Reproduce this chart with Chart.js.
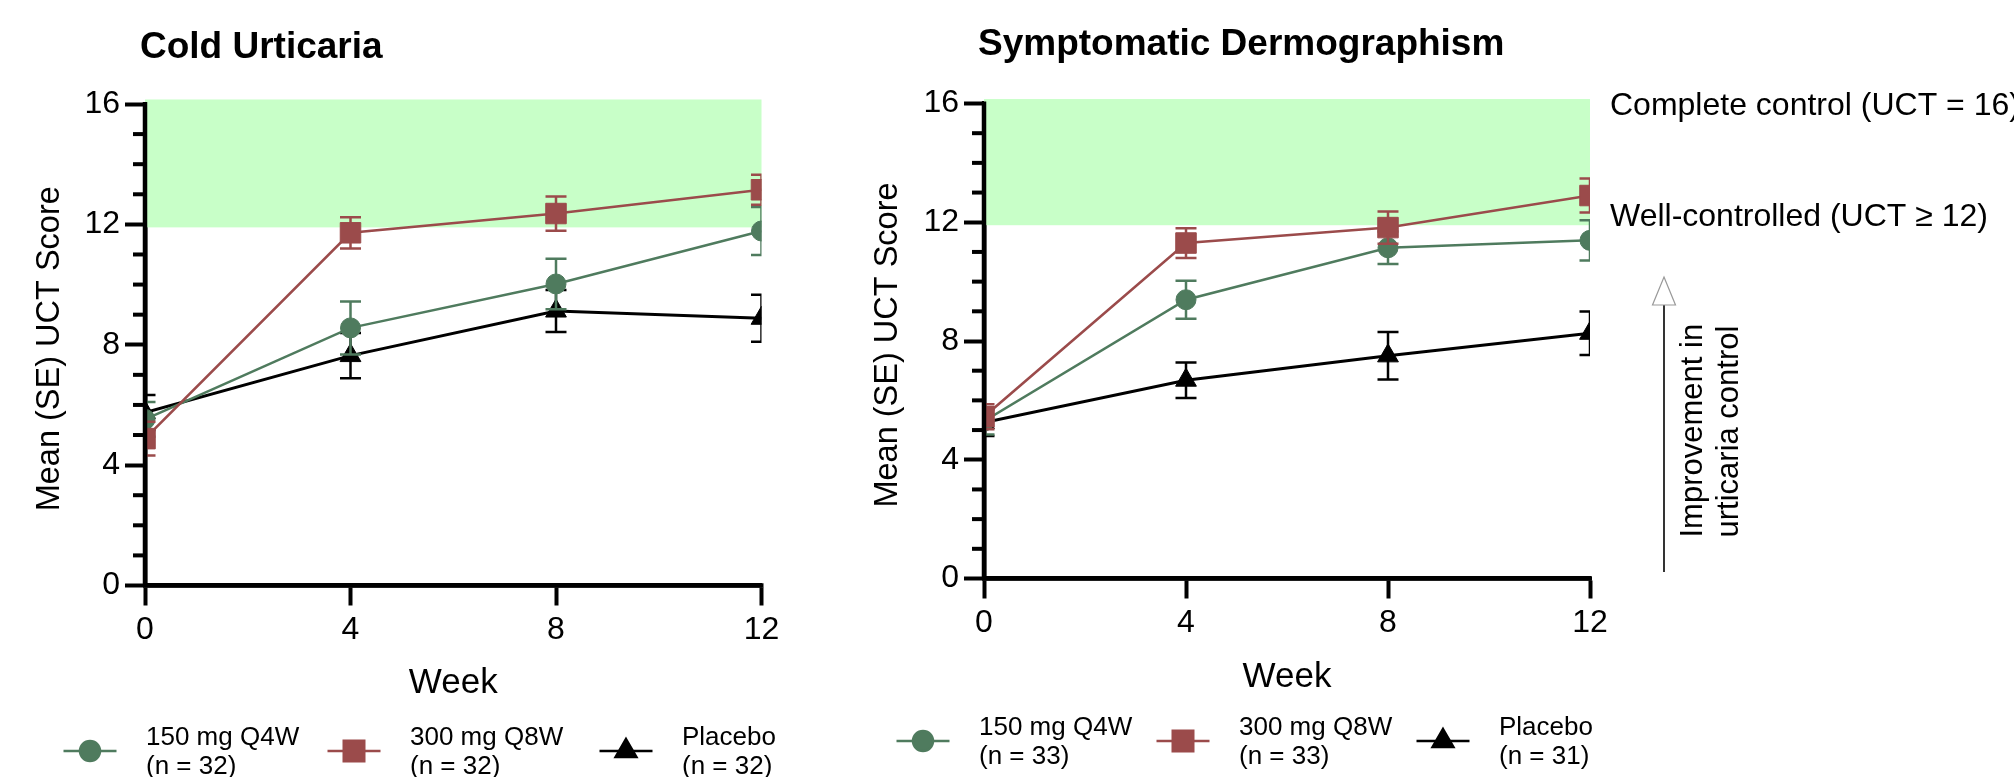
<!DOCTYPE html>
<html><head><meta charset="utf-8">
<script src="https://cdn.jsdelivr.net/npm/chart.js@4/dist/chart.umd.min.js"></script>
<style>
html,body{margin:0;padding:0;background:#fff;overflow:hidden}
#wrap{position:relative;width:2014px;height:777px;background:#fff}
canvas{position:absolute;top:0}
#c1{left:0;width:850px;height:777px}
#c2{left:850px;width:1164px;height:777px}
</style></head><body>
<div id="wrap"><canvas id="c1" width="850" height="777"></canvas><canvas id="c2" width="1164" height="777"></canvas></div>
<script>
// ---- data ----
const weeks = [0, 4, 8, 12];
const seriesNames = ['150 mg Q4W', '300 mg Q8W', 'Placebo'];
const yTicks = [0, 4, 8, 12, 16];
const xTicks = [0, 4, 8, 12];

const cuTitle = 'Cold Urticaria';
const cuN = [32, 32, 32];
const cuQ4W = [5.52, 8.56, 10.02, 11.78];
const cuQ4WSe = [0.58, 0.88, 0.84, 0.80];
const cuQ8W = [4.88, 11.72, 12.36, 13.15];
const cuQ8WSe = [0.56, 0.52, 0.57, 0.50];
const cuPbo = [5.75, 7.64, 9.12, 8.88];
const cuPboSe = [0.58, 0.75, 0.70, 0.78];

const sdTitle = 'Symptomatic Dermographism';
const sdN = [33, 33, 31];
const sdQ4W = [5.30, 9.39, 11.14, 11.39];
const sdQ4WSe = [0.45, 0.64, 0.55, 0.68];
const sdQ8W = [5.45, 11.30, 11.82, 12.90];
const sdQ8WSe = [0.42, 0.50, 0.54, 0.57];
const sdPbo = [5.25, 6.68, 7.50, 8.26];
const sdPboSe = [0.45, 0.60, 0.80, 0.73];

const wellControlled = 11.9;
const completeControl = 16.15;
const annoComplete = 'Complete control (UCT = 16)';
const annoWell = 'Well-controlled (UCT \u2265 12)';
const annoImprove = ['Improvement in', 'urticaria control'];
const yTitle = 'Mean (SE) UCT Score';
const xTitle = 'Week';

// ---- styles ----
const FONT = '"Liberation Sans", Arial, Helvetica, sans-serif';
const GREEN = '#4f7b5e', RED = '#9b4b4b', BLACK = '#000000', BAND = '#c8ffc8';
const styles = [
  {color: GREEN, pointStyle: 'circle', radius: 10, lw: 2.5, order: 2},
  {color: RED, pointStyle: 'rect', radius: 14.5, lw: 2.5, order: 1},
  {color: BLACK, pointStyle: 'triangle', radius: 12, lw: 3, order: 3}
];

function makeDatasets(vals, errs) {
  return vals.map((v, k) => ({
    label: seriesNames[k],
    data: weeks.map((w, i) => ({x: w, y: v[i]})),
    errors: errs[k],
    borderColor: styles[k].color,
    backgroundColor: styles[k].color,
    borderWidth: styles[k].lw,
    pointStyle: styles[k].pointStyle,
    pointRadius: styles[k].radius,
    pointBorderWidth: 1,
    pointBackgroundColor: styles[k].color,
    pointBorderColor: styles[k].color,
    tension: 0,
    clip: 0,
    order: styles[k].order
  }));
}

const bandPlugin = {
  id: 'band',
  beforeDatasetsDraw(chart) {
    const {ctx, scales: {x, y}} = chart;
    ctx.save();
    ctx.fillStyle = BAND;
    const l = x.getPixelForValue(0), r = x.getPixelForValue(12);
    const t = y.getPixelForValue(completeControl), b = y.getPixelForValue(wellControlled);
    ctx.fillRect(l, t, r - l, b - t);
    ctx.restore();
  }
};

const errorPlugin = {
  id: 'errbars',
  beforeDatasetDraw(chart, args) {
    const ds = chart.data.datasets[args.index];
    const meta = args.meta;
    const {ctx, chartArea: a, scales: {y}} = chart;
    ctx.save();
    ctx.beginPath();
    ctx.rect(a.left, a.top - 40, a.right - a.left, a.bottom - a.top + 80);
    ctx.clip();
    ctx.strokeStyle = ds.borderColor;
    ctx.lineWidth = 2.5;
    const cap = 21;
    meta.data.forEach((pt, i) => {
      const v = ds.data[i].y, e = ds.errors[i];
      const yt = y.getPixelForValue(v + e), yb = y.getPixelForValue(v - e), px = pt.x;
      ctx.beginPath();
      ctx.moveTo(px, yt); ctx.lineTo(px, yb);
      ctx.moveTo(px - cap / 2, yt); ctx.lineTo(px + cap / 2, yt);
      ctx.moveTo(px - cap / 2, yb); ctx.lineTo(px + cap / 2, yb);
      ctx.stroke();
    });
    ctx.restore();
  }
};

const axisPlugin = {
  id: 'axes',
  afterDatasetsDraw(chart) {
    const {ctx, chartArea: a, scales: {y}} = chart;
    ctx.save();
    ctx.strokeStyle = '#000';
    ctx.lineWidth = 4;
    for (let v = 1; v < 16; v++) {
      if (v % 4 === 0) continue;
      const py = y.getPixelForValue(v);
      ctx.beginPath(); ctx.moveTo(a.left - 12, py); ctx.lineTo(a.left, py); ctx.stroke();
    }
    ctx.lineWidth = 4.5;
    ctx.beginPath();
    ctx.moveTo(a.left, a.top - 2); ctx.lineTo(a.left, a.bottom);
    ctx.moveTo(a.left - 2, a.bottom); ctx.lineTo(a.right + 2, a.bottom);
    ctx.stroke();
    ctx.restore();
  }
};

function decorPlugin(cfg) {
  return {
    id: 'decor',
    afterDraw(chart) {
      const {ctx, chartArea: a} = chart;
      ctx.save();
      ctx.fillStyle = '#000';
      ctx.font = 'bold 37px ' + FONT;
      ctx.textAlign = 'left'; ctx.textBaseline = 'middle';
      ctx.fillText(cfg.title, cfg.titleX, cfg.titleY);
      ctx.font = '35px ' + FONT;
      ctx.textAlign = 'center';
      ctx.fillText(xTitle, (a.left + a.right) / 2, cfg.weekY);
      ctx.save();
      ctx.translate(cfg.yTitleX, (a.top + a.bottom) / 2 + 4);
      ctx.rotate(-Math.PI / 2);
      ctx.font = '32.5px ' + FONT;
      ctx.fillText(yTitle, 0, 0);
      ctx.restore();
      chart.data.datasets.forEach((ds, k) => {
        const mx = cfg.legX[k], my = cfg.legY;
        ctx.strokeStyle = ds.borderColor; ctx.lineWidth = 2.5;
        ctx.beginPath(); ctx.moveTo(mx - 26.5, my); ctx.lineTo(mx + 26.5, my); ctx.stroke();
        ctx.fillStyle = ds.borderColor;
        Chart.helpers.drawPoint(ctx, {pointStyle: ds.pointStyle, radius: ds.pointRadius, rotation: 0, borderWidth: 1}, mx, my);
        ctx.fillStyle = '#000';
        ctx.font = '26px ' + FONT;
        ctx.textAlign = 'left'; ctx.textBaseline = 'middle';
        ctx.fillText(ds.label, mx + 56, my - 13);
        ctx.fillText('(n = ' + cfg.n[k] + ')', mx + 56, my + 16);
      });
      if (cfg.annot) {
        ctx.fillStyle = '#000';
        ctx.font = '32px ' + FONT;
        ctx.textAlign = 'left'; ctx.textBaseline = 'middle';
        ctx.fillText(annoComplete, 760, 106.5);
        ctx.fillText(annoWell, 760, 217);
        ctx.strokeStyle = '#000'; ctx.lineWidth = 1.6;
        ctx.beginPath(); ctx.moveTo(814, 305); ctx.lineTo(814, 572); ctx.stroke();
        ctx.beginPath();
        ctx.moveTo(814, 277); ctx.lineTo(825.5, 305); ctx.lineTo(802.5, 305); ctx.closePath();
        ctx.fillStyle = '#fff'; ctx.fill();
        ctx.strokeStyle = '#999'; ctx.lineWidth = 1.2; ctx.stroke();
        ctx.save();
        ctx.translate(852, 537.5);
        ctx.rotate(-Math.PI / 2);
        ctx.fillStyle = '#000';
        ctx.font = '31px ' + FONT;
        ctx.textAlign = 'left'; ctx.textBaseline = 'alphabetic';
        ctx.fillText(annoImprove[0], 0, 0);
        ctx.fillText(annoImprove[1], 0, 36);
        ctx.restore();
      }
      ctx.restore();
    }
  };
}

function makeChart(id, vals, errs, pad, cfg) {
  const tickFont = {family: FONT, size: 32};
  return new Chart(document.getElementById(id), {
    type: 'line',
    data: {datasets: makeDatasets(vals, errs)},
    options: {
      responsive: false, animation: false, devicePixelRatio: 1,
      layout: {padding: pad},
      plugins: {legend: {display: false}, tooltip: {enabled: false}, title: {display: false}},
      scales: {
        x: {
          type: 'linear', min: 0, max: 12,
          afterBuildTicks: s => { s.ticks = xTicks.map(v => ({value: v})); },
          afterFit: s => { s.height = 60; },
          ticks: {font: tickFont, color: '#000', padding: 5, maxRotation: 0, autoSkip: false},
          grid: {drawOnChartArea: false, drawTicks: true, tickLength: 20, tickWidth: 4, tickColor: '#000'},
          border: {color: '#000', width: 4.5}
        },
        y: {
          type: 'linear', min: 0, max: 16,
          afterBuildTicks: s => { s.ticks = yTicks.map(v => ({value: v})); },
          afterFit: s => { s.width = 100; },
          ticks: {font: tickFont, color: '#000', padding: 5},
          grid: {drawOnChartArea: false, drawTicks: true, tickLength: 20, tickWidth: 4, tickColor: '#000'},
          border: {color: '#000', width: 4.5}
        }
      }
    },
    plugins: [bandPlugin, errorPlugin, axisPlugin, decorPlugin(cfg)]
  });
}

makeChart('c1',
  [cuQ4W, cuQ8W, cuPbo], [cuQ4WSe, cuQ8WSe, cuPboSe],
  {left: 45, right: 88.5, top: 104, bottom: 131.5},
  {title: cuTitle, titleX: 140, titleY: 48, weekY: 683, yTitleX: 50, legX: [90, 354, 626], legY: 751, n: cuN, annot: false});

makeChart('c2',
  [sdQ4W, sdQ8W, sdPbo], [sdQ4WSe, sdQ8WSe, sdPboSe],
  {left: 34, right: 424, top: 103.5, bottom: 138.5},
  {title: sdTitle, titleX: 128, titleY: 45, weekY: 677, yTitleX: 38, legX: [73, 333, 593], legY: 741, n: sdN, annot: true});
</script>
</body></html>
